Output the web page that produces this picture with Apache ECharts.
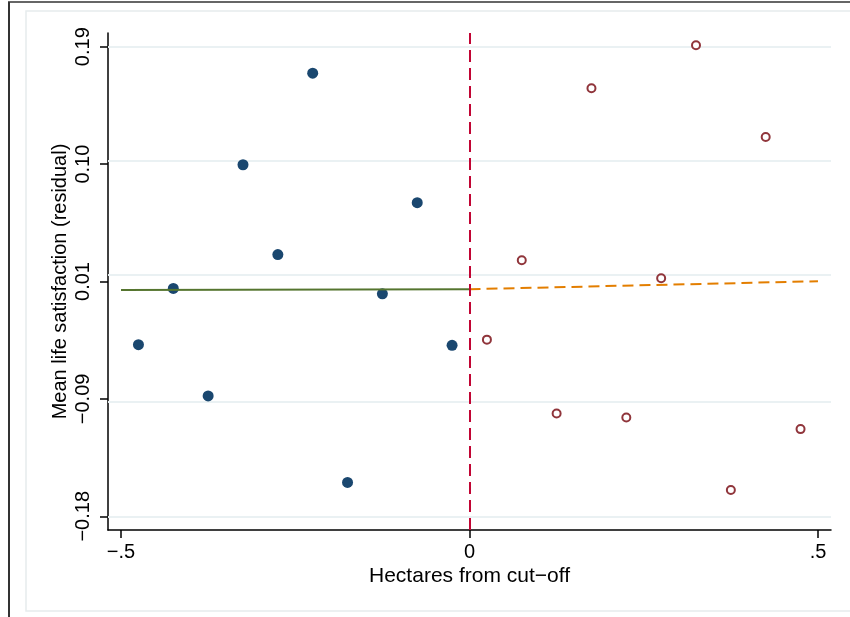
<!DOCTYPE html>
<html>
<head>
<meta charset="utf-8">
<script src="https://cdn.jsdelivr.net/npm/echarts@6/dist/echarts.min.js"></script>
<style>
html,body{margin:0;padding:0;background:#fff;}
#chart{width:850px;height:617px;}
</style>
</head>
<body>
<div id="chart"></div>
<script>
// Left of cut-off (filled markers)
const leftX = [-0.475, -0.425, -0.375, -0.325, -0.275, -0.225, -0.175, -0.125, -0.075, -0.025];
const leftY = [-0.0448, -0.0005, -0.0852, 0.0970, 0.0262, 0.1691, -0.1533, -0.0047, 0.0671, -0.0453];
// Right of cut-off (hollow markers)
const rightX = [0.025, 0.075, 0.125, 0.175, 0.225, 0.275, 0.325, 0.375, 0.425, 0.475];
const rightY = [-0.0408, 0.0217, -0.0990, 0.1573, -0.1022, 0.0076, 0.1911, -0.1593, 0.1188, -0.1113];
// Linear fits
const fitLeftX = [-0.5, 0];
const fitLeftY = [-0.0016, -0.0011];
const fitRightX = [0, 0.5];
const fitRightY = [-0.0011, 0.0052];
// Cut-off
const cutoff = 0;
// Axis ticks
const yTickValues = [-0.18, -0.0875, 0.005, 0.0975, 0.19];
const yTickLabels = ['\u22120.18', '\u22120.09', '0.01', '0.10', '0.19'];
const xTickValues = [-0.5, 0, 0.5];
const xTickLabels = ['\u2212.5', '0', '.5'];

const zip = (a, b) => a.map((v, i) => [v, b[i]]);
const FONT = 'Liberation Sans';

const chart = echarts.init(document.getElementById('chart'), null, {renderer: 'canvas'});
const option = {
  animation: false,
  backgroundColor: '#ffffff',
  graphic: [
    {type: 'rect', z: -10, shape: {x: 26, y: 11, width: 900, height: 600},
     style: {fill: 'none', stroke: '#e6eced', lineWidth: 1.5}},
    {type: 'line', z: -10, shape: {x1: 8, y1: 2, x2: 850, y2: 2},
     style: {stroke: '#666666', lineWidth: 2}},
    {type: 'line', z: -10, shape: {x1: 9, y1: 2, x2: 9, y2: 617},
     style: {stroke: '#333333', lineWidth: 2}}
  ],
  grid: {left: 108, right: 19, top: 33, bottom: 87, containLabel: false},
  xAxis: {
    type: 'value',
    min: -0.5187, max: 0.5187,
    name: 'Hectares from cut\u2212off',
    nameLocation: 'middle',
    nameGap: 36,
    nameMoveOverlap: false,
    nameTextStyle: {fontFamily: FONT, fontSize: 21, color: '#000'},
    axisLine: {show: true, onZero: false, lineStyle: {color: '#000', width: 1.5}},
    axisTick: {show: true, length: 8, customValues: xTickValues, lineStyle: {color: '#000', width: 1.5}},
    axisLabel: {
      customValues: xTickValues,
      margin: 12,
      fontFamily: FONT, fontSize: 20, color: '#000',
      formatter: v => { const i = xTickValues.findIndex(t => Math.abs(t - v) < 1e-9); return i >= 0 ? xTickLabels[i] : ''; }
    },
    splitLine: {show: false}
  },
  yAxis: {
    type: 'value',
    min: -0.1908, max: 0.2008,
    name: 'Mean life satisfaction (residual)',
    nameLocation: 'middle',
    nameRotate: 90,
    nameGap: 38,
    nameMoveOverlap: false,
    nameTextStyle: {fontFamily: FONT, fontSize: 20, color: '#000'},
    axisLine: {show: true, onZero: false, lineStyle: {color: '#000', width: 1.5}},
    axisTick: {show: true, length: 8, customValues: yTickValues, lineStyle: {color: '#000', width: 1.5}},
    axisLabel: {
      customValues: yTickValues,
      rotate: 90,
      margin: 15,
      fontFamily: FONT, fontSize: 20, color: '#000',
      formatter: v => { const i = yTickValues.findIndex(t => Math.abs(t - v) < 1e-9); return i >= 0 ? yTickLabels[i] : ''; }
    },
    splitLine: {show: false}
  },
  series: [
    {
      type: 'line', data: [], z: 1, silent: true,
      markLine: {
        z: 1, silent: true, symbol: ['none', 'none'], label: {show: false},
        lineStyle: {color: '#eaf1f3', width: 2, type: 'solid'},
        data: yTickValues.map(v => ({yAxis: v}))
      }
    },
    {
      type: 'scatter', data: zip(leftX, leftY), z: 6,
      symbol: 'circle', symbolSize: 11,
      itemStyle: {color: '#1a476f', opacity: 1}
    },
    {
      type: 'scatter', data: zip(rightX, rightY), z: 6,
      symbol: 'circle', symbolSize: 8,
      itemStyle: {color: '#ffffff', borderColor: '#90353b', borderWidth: 2, opacity: 1}
    },
    {
      type: 'line', data: zip(fitLeftX, fitLeftY), z: 7,
      showSymbol: false, symbol: 'none',
      lineStyle: {color: '#55752f', width: 2, type: 'solid'}
    },
    {
      type: 'line', data: zip(fitRightX, fitRightY), z: 7,
      showSymbol: false, symbol: 'none',
      lineStyle: {color: '#e37e00', width: 2, type: [11, 6]}
    },
    {
      type: 'line', data: [], z: 8, silent: true,
      markLine: {
        z: 8, silent: true, symbol: ['none', 'none'], label: {show: false},
        lineStyle: {color: '#c10534', width: 2, type: [12, 6]},
        data: [{xAxis: cutoff}]
      }
    }
  ]
};
chart.setOption(option);
</script>
</body>
</html>
